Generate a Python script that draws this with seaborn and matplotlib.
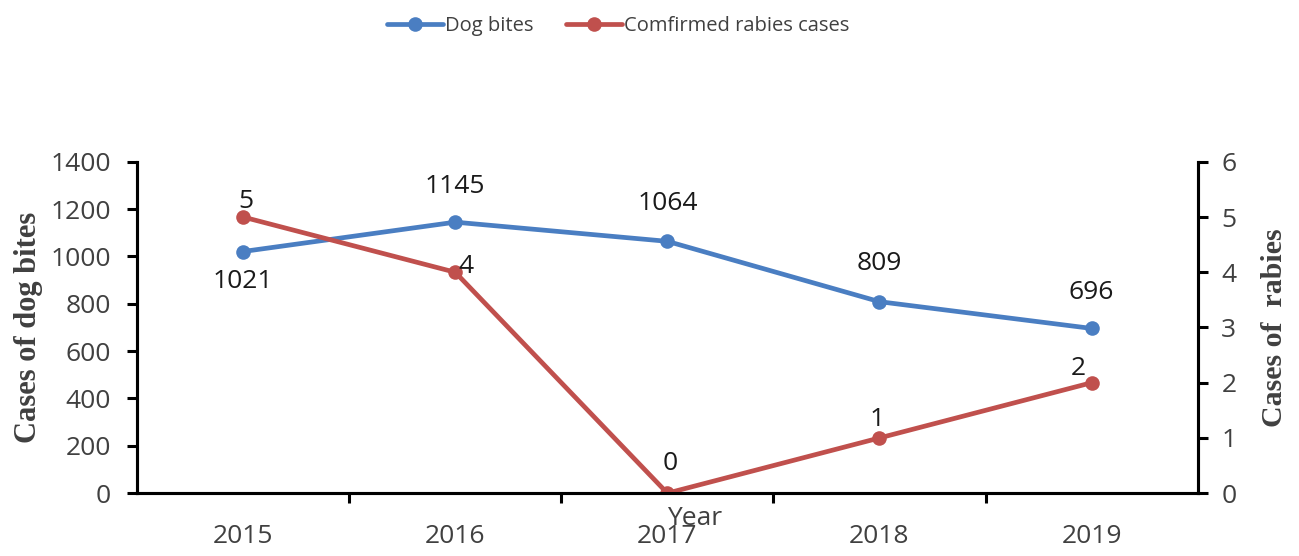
import numpy as np
import pandas as pd
import seaborn as sns
import matplotlib.pyplot as plt
from matplotlib.ticker import FixedLocator, MultipleLocator

# Data
years = ["2015", "2016", "2017", "2018", "2019"]
dog_bites = [1021, 1145, 1064, 809, 696]
rabies_cases = [5, 4, 0, 1, 2]

blue = "#4A7EC2"
red = "#C0504D"

sns.set_theme(style="white")
plt.rcParams['font.family'] = ['Open Sans', 'DejaVu Sans']

df = pd.DataFrame({"Year": years, "Dog bites": dog_bites,
                   "Comfirmed rabies cases": rabies_cases})
df["x"] = np.arange(len(years))

fig = plt.figure(figsize=(12.99, 5.56), dpi=100)
ax = fig.add_axes([0.1055, 0.113, 0.8165, 0.596])
ax2 = ax.twinx()

sns.lineplot(data=df, x="x", y="Dog bites", ax=ax, color=blue, lw=3.4,
             marker="o", markersize=10.5, markeredgewidth=0, label="Dog bites",
             legend=False)
sns.lineplot(data=df, x="x", y="Comfirmed rabies cases", ax=ax2, color=red, lw=3.4,
             marker="o", markersize=10.5, markeredgewidth=0,
             label="Comfirmed rabies cases", legend=False)

ax.set_xlim(-0.5, 4.5)
ax.set_ylim(0, 1400)
ax2.set_ylim(0, 6)
ax.yaxis.set_major_locator(MultipleLocator(200))
ax2.yaxis.set_major_locator(MultipleLocator(1))

# category labels at centres, ticks at boundaries
ax.set_xticks(df["x"])
ax.set_xticklabels(years)
ax.xaxis.set_minor_locator(FixedLocator([0.5, 1.5, 2.5, 3.5]))
ax.tick_params(axis="x", which="major", length=0, pad=22, labelsize=19, colors="#404040")
ax.tick_params(axis="x", which="minor", length=7, width=2.2, direction="out",
               bottom=True, color="black")
ax.tick_params(axis="y", length=7, width=2.2, direction="out", left=True,
               pad=12, labelsize=19, labelcolor="#404040", color="black")
ax2.tick_params(axis="y", length=7, width=2.2, direction="out", right=True,
                pad=10, labelsize=19, labelcolor="#404040", color="black")

for a in (ax, ax2):
    a.spines["top"].set_visible(False)
    for side in ("left", "right", "bottom"):
        a.spines[side].set_linewidth(2.2)
        a.spines[side].set_color("black")

ax.set_xlabel("")
ax.set_ylabel("Cases of dog bites", family="Liberation Serif", weight="bold",
              fontsize=22, color="#404040", labelpad=5)
ax2.set_ylabel("Cases of  rabies", family="Liberation Serif", weight="bold",
               fontsize=21.5, color="#404040", labelpad=18)
ax.text(2.13, -0.075, "Year", transform=ax.get_xaxis_transform(), ha="center",
        va="center", fontsize=19, color="#404040")

# data labels
bite_off = [(0, -30), (0, 36), (0, 38), (0, 38), (0, 36)]
rab_off = [(3, 16), (11, 6), (3, 30), (-2, 18), (-13, 14)]
for i in range(len(years)):
    ax.annotate(str(dog_bites[i]), (df["x"][i], dog_bites[i]),
                xytext=bite_off[i], textcoords="offset pixels",
                ha="center", va="center", fontsize=19, color="#1a1a1a")
    ax2.annotate(str(rabies_cases[i]), (df["x"][i], rabies_cases[i]),
                 xytext=rab_off[i], textcoords="offset pixels",
                 ha="center", va="center", fontsize=19, color="#1a1a1a")

h1, l1 = ax.get_legend_handles_labels()
h2, l2 = ax2.get_legend_handles_labels()
fig.legend(h1 + h2, l1 + l2, loc="center", bbox_to_anchor=(0.476, 0.953), ncol=2,
           frameon=False, fontsize=14.5, handlelength=2.8, handletextpad=0.1,
           columnspacing=1.6, labelcolor="#404040")

fig.savefig("out.png", dpi=100)
